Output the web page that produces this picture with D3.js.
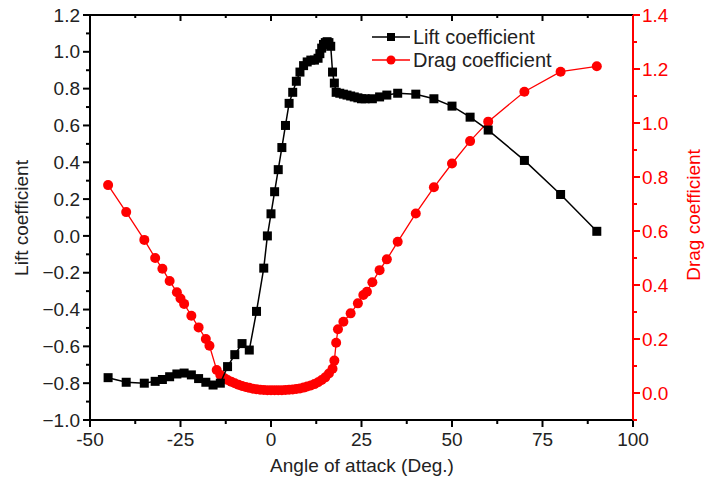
<!DOCTYPE html>
<html>
<head>
<meta charset="utf-8">
<script src="https://cdn.jsdelivr.net/npm/d3@7"></script>
<style>
  body { margin: 0; background: #fff; }
  svg { display: block; font-family: "Liberation Sans", Arial, sans-serif; }
</style>
</head>
<body>
<svg id="chart" width="706" height="482"></svg>
<script>
// Lift coefficient (left axis)
const liftAngles = [-45, -40, -35, -32, -30, -28, -26, -24, -22, -20, -18, -16, -14, -12, -10, -8, -6, -4, -2, -1,
  0, 1, 2, 3, 4, 5, 6, 7, 8, 9, 10, 11, 12, 13, 13.5, 14, 14.5, 15, 15.5, 16, 16.5, 17, 17.5, 18,
  19, 20, 21, 22, 23, 24, 25, 26, 28, 30, 32, 35, 40, 45, 50, 55, 60, 70, 80, 90];
const liftValues = [-0.77, -0.795, -0.80, -0.79, -0.78, -0.765, -0.75, -0.745, -0.755, -0.775, -0.795, -0.81, -0.80, -0.71, -0.645, -0.585, -0.62, -0.41, -0.175, 0.0,
  0.12, 0.24, 0.36, 0.48, 0.60, 0.72, 0.78, 0.84, 0.89, 0.925, 0.945, 0.955, 0.955, 0.965, 0.99, 1.02, 1.04, 1.05, 1.055, 1.05, 1.03, 0.89, 0.83, 0.78,
  0.775, 0.77, 0.765, 0.76, 0.755, 0.75, 0.745, 0.745, 0.745, 0.755, 0.765, 0.775, 0.77, 0.745, 0.705, 0.645, 0.575, 0.41, 0.225, 0.025];

// Drag coefficient (right axis)
const dragAngles = [-45, -40, -35, -32, -30, -28, -26, -25, -24, -22, -20, -18, -17, -15,
  -14, -13, -12, -11, -10, -9, -8, -7, -6, -5, -4, -3, -2, -1, 0, 1, 2, 3, 4, 5, 6, 7, 8, 9, 10,
  11, 12, 13, 14, 15, 16, 17, 17.5, 18, 18.5, 20, 22, 24, 25.5, 26.5, 28, 30, 32, 35, 40, 45, 50, 55, 60, 70, 80, 90];
const dragValues = [0.77, 0.67, 0.567, 0.50, 0.46, 0.415, 0.373, 0.35, 0.33, 0.286, 0.243, 0.20, 0.175, 0.085,
  0.067, 0.056, 0.048, 0.042, 0.036, 0.031, 0.026, 0.022, 0.019, 0.016, 0.014, 0.012, 0.011, 0.010, 0.010, 0.010, 0.010, 0.010, 0.011, 0.012, 0.013, 0.015, 0.017, 0.020, 0.024,
  0.028, 0.033, 0.040, 0.048, 0.058, 0.072, 0.090, 0.12, 0.186, 0.236, 0.264, 0.295, 0.332, 0.363, 0.375, 0.41, 0.455, 0.495, 0.56, 0.665, 0.762, 0.85, 0.933, 1.005, 1.116, 1.19, 1.21];

const xTicks = [-50, -25, 0, 25, 50, 75, 100];
const liftTicks = [-1.0, -0.8, -0.6, -0.4, -0.2, 0.0, 0.2, 0.4, 0.6, 0.8, 1.0, 1.2];
const dragTicks = [0.0, 0.2, 0.4, 0.6, 0.8, 1.0, 1.2, 1.4];

const lift = liftAngles.map((a, i) => ({ a, v: liftValues[i] }));
const drag = dragAngles.map((a, i) => ({ a, v: dragValues[i] }));

const svg = d3.select("#chart");
const mLeft = 90, mRight = 633, mTop = 15, mBottom = 420;
const RED = "#ff0000";
const FS = 19;

const x = d3.scaleLinear().domain([-50, 100]).range([mLeft, mRight]);
const yL = d3.scaleLinear().domain([-1.0, 1.2]).range([mBottom, mTop]);
const yR = d3.scaleLinear().domain([-0.1, 1.4]).range([mBottom, mTop]);

const fmt = d3.format(".1f");

// minor tick positions
function minor(step, lo, hi) {
  const out = [];
  for (let v = lo; v <= hi + 1e-9; v += step) out.push(+v.toFixed(4));
  return out;
}
const xMinor = minor(12.5, -50, 100);

// top frame line with inward ticks
svg.append("line").attr("x1", mLeft).attr("x2", mRight).attr("y1", mTop).attr("y2", mTop)
  .attr("stroke", "#000").attr("stroke-width", 2);
svg.append("g").selectAll("line").data(xMinor).join("line")
  .attr("x1", d => x(d)).attr("x2", d => x(d))
  .attr("y1", mTop).attr("y2", (d, i) => mTop + (i % 2 === 0 ? 6 : 3))
  .attr("stroke", "#000").attr("stroke-width", 2);

// bottom axis
const gx = svg.append("g").attr("transform", `translate(0,${mBottom})`);
gx.append("line").attr("x1", mLeft).attr("x2", mRight).attr("stroke", "#000").attr("stroke-width", 2);
gx.selectAll(".mt").data(xMinor).join("line").attr("class", "mt")
  .attr("x1", d => x(d)).attr("x2", d => x(d)).attr("y1", 0)
  .attr("y2", (d, i) => (i % 2 === 0 ? 7 : 4))
  .attr("stroke", "#000").attr("stroke-width", 2);
gx.selectAll(".lab").data(xTicks).join("text").attr("class", "lab")
  .attr("x", d => x(d)).attr("y", 26).attr("text-anchor", "middle")
  .attr("font-size", FS).attr("fill", "#222").text(d => d);

// left axis
const gl = svg.append("g").attr("transform", `translate(${mLeft},0)`);
gl.append("line").attr("y1", mTop).attr("y2", mBottom).attr("stroke", "#000").attr("stroke-width", 2);
gl.selectAll(".mt").data(minor(0.1, -1.0, 1.2)).join("line").attr("class", "mt")
  .attr("y1", d => yL(d)).attr("y2", d => yL(d)).attr("x1", 0)
  .attr("x2", (d, i) => (i % 2 === 0 ? -7 : -4))
  .attr("stroke", "#000").attr("stroke-width", 2);
gl.selectAll(".lab").data(liftTicks).join("text").attr("class", "lab")
  .attr("x", -10).attr("y", d => yL(d)).attr("dy", "0.35em").attr("text-anchor", "end")
  .attr("font-size", FS).attr("fill", "#222").text(d => fmt(d));

// right axis
const gr = svg.append("g").attr("transform", `translate(${mRight},0)`);
gr.append("line").attr("y1", mTop).attr("y2", mBottom).attr("stroke", RED).attr("stroke-width", 2);
gr.selectAll(".mt").data(minor(0.1, -0.1, 1.4)).join("line").attr("class", "mt")
  .attr("y1", d => yR(d)).attr("y2", d => yR(d)).attr("x1", 0)
  .attr("x2", (d, i) => (i % 2 === 1 ? 7 : 4))
  .attr("stroke", RED).attr("stroke-width", 2);
gr.selectAll(".lab").data(dragTicks).join("text").attr("class", "lab")
  .attr("x", 9).attr("y", d => yR(d)).attr("dy", "0.35em").attr("text-anchor", "start")
  .attr("font-size", FS).attr("fill", RED).text(d => fmt(d));

// axis titles
svg.append("text").attr("x", 362).attr("y", 472).attr("text-anchor", "middle")
  .attr("font-size", FS).attr("fill", "#222").text("Angle of attack (Deg.)");
svg.append("text").attr("transform", `translate(28,218) rotate(-90)`)
  .attr("text-anchor", "middle").attr("font-size", FS).attr("fill", "#222").text("Lift coefficient");
svg.append("text").attr("transform", `translate(700,215) rotate(-90)`)
  .attr("text-anchor", "middle").attr("font-size", FS).attr("fill", RED).text("Drag coefficient");

// series
const lineL = d3.line().x(d => x(d.a)).y(d => yL(d.v));
const lineR = d3.line().x(d => x(d.a)).y(d => yR(d.v));

svg.append("path").datum(drag).attr("d", lineR).attr("fill", "none")
  .attr("stroke", RED).attr("stroke-width", 1.3);
svg.append("g").selectAll("circle").data(drag).join("circle")
  .attr("cx", d => x(d.a)).attr("cy", d => yR(d.v)).attr("r", 5).attr("fill", RED);

svg.append("path").datum(lift).attr("d", lineL).attr("fill", "none")
  .attr("stroke", "#000").attr("stroke-width", 1.5);
svg.append("g").selectAll("rect").data(lift).join("rect")
  .attr("x", d => x(d.a) - 4.5).attr("y", d => yL(d.v) - 4.5).attr("width", 9).attr("height", 9).attr("fill", "#000");

// legend
const legend = [
  { name: "Lift coefficient", color: "#000", shape: "square" },
  { name: "Drag coefficient", color: RED, shape: "circle" }
];
legend.forEach((d, i) => {
  const ly = 37 + i * 23;
  svg.append("line").attr("x1", 372).attr("x2", 410).attr("y1", ly).attr("y2", ly)
    .attr("stroke", d.color).attr("stroke-width", 1.5);
  if (d.shape === "square") {
    svg.append("rect").attr("x", 387).attr("y", ly - 4).attr("width", 8).attr("height", 8).attr("fill", d.color);
  } else {
    svg.append("circle").attr("cx", 391).attr("cy", ly).attr("r", 4.5).attr("fill", d.color);
  }
  svg.append("text").attr("x", 413).attr("y", ly).attr("dy", "0.35em")
    .attr("font-size", 20).attr("fill", "#222").text(d.name);
});
</script>
</body>
</html>
